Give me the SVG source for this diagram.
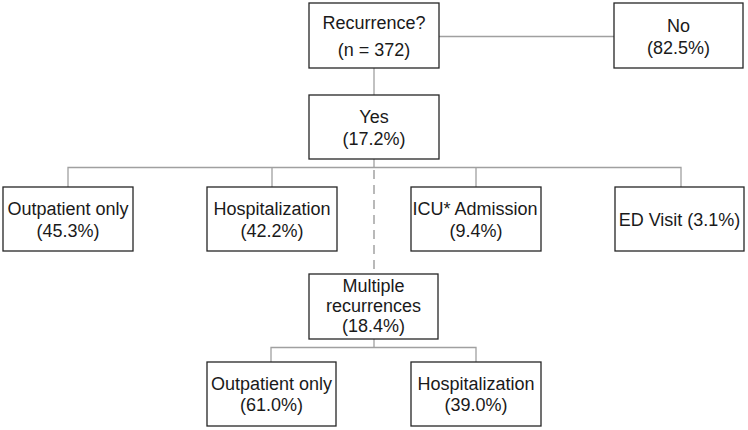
<svg xmlns="http://www.w3.org/2000/svg" width="748" height="430" viewBox="0 0 748 430">
<style>
.box{fill:#fff;stroke:#262626;stroke-width:1.3}
.t{font-family:"Liberation Sans",Arial,sans-serif;font-size:18px;fill:#1a1a1a;text-anchor:middle}
.c{fill:none;stroke:#a0a0a0;stroke-width:1.3}
.d{fill:none;stroke:#808080;stroke-width:1.1;stroke-dasharray:9 6}
</style>
<rect width="748" height="430" fill="#fff"/>
<g id="connectors">
<path class="c" d="M439 36.5H614"/>
<path class="c" d="M374 68V95"/>
<path class="c" d="M374 159V167.5"/>
<path class="c" d="M68 187V167.5H681V187"/>
<path class="c" d="M272 167.5V187M476 167.5V187"/>
<path class="d" d="M374 170V274"/>
<path class="c" d="M374 339V347.5"/>
<path class="c" d="M271 362V347.5H476V362"/>
</g>
<g id="recurrence"><rect class="box" x="309" y="3" width="130" height="65"/><text class="t" x="374" y="29">Recurrence?</text><text class="t" x="374" y="56">(n = 372)</text></g>
<g id="no"><rect class="box" x="614" y="3" width="129" height="65"/><text class="t" x="678.5" y="32">No</text><text class="t" x="678.5" y="54">(82.5%)</text></g>
<g id="yes"><rect class="box" x="309" y="95" width="130" height="64"/><text class="t" x="374" y="123">Yes</text><text class="t" x="374" y="145">(17.2%)</text></g>
<g id="outpatient1"><rect class="box" x="3" y="187" width="130" height="64"/><text class="t" x="68" y="215">Outpatient only</text><text class="t" x="68" y="237">(45.3%)</text></g>
<g id="hospitalization1"><rect class="box" x="207" y="187" width="130" height="64"/><text class="t" x="272" y="215">Hospitalization</text><text class="t" x="272" y="237">(42.2%)</text></g>
<g id="icu"><rect class="box" x="411" y="187" width="130" height="64"/><text class="t" x="475" y="215">ICU* Admission</text><text class="t" x="476" y="237">(9.4%)</text></g>
<g id="ed"><rect class="box" x="615" y="187" width="129" height="64"/><text class="t" x="679.5" y="226">ED Visit (3.1%)</text></g>
<g id="multiple"><rect class="box" x="309" y="274" width="129" height="65"/><text class="t" x="373.5" y="292">Multiple</text><text class="t" x="373.5" y="312">recurrences</text><text class="t" x="373.5" y="332">(18.4%)</text></g>
<g id="outpatient2"><rect class="box" x="207" y="362" width="129" height="64"/><text class="t" x="271.5" y="390">Outpatient only</text><text class="t" x="271.5" y="411">(61.0%)</text></g>
<g id="hospitalization2"><rect class="box" x="411" y="362" width="130" height="64"/><text class="t" x="476" y="390">Hospitalization</text><text class="t" x="476" y="411">(39.0%)</text></g>
</svg>
